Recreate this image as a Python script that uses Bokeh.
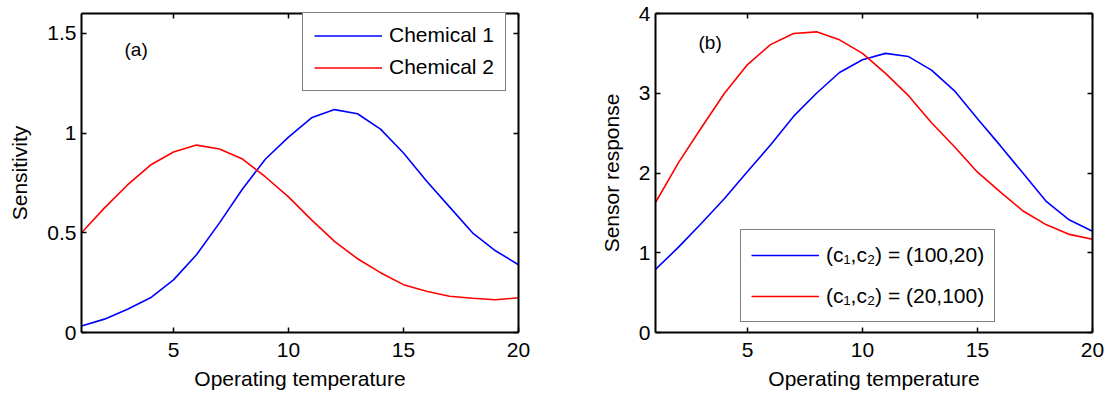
from bokeh.plotting import figure
from bokeh.layouts import row
from bokeh.models import (LinearAxis, FixedTicker, Range1d, Legend, LegendItem,
                          Label, CustomJSTickFormatter)
from bokeh.embed import file_html
from bokeh.resources import INLINE

# ---------------- data ----------------
temperature = list(range(1, 21))

chemical1 = [0.033, 0.067, 0.117, 0.174, 0.264, 0.39, 0.55, 0.72, 0.87, 0.98,
             1.077, 1.118, 1.097, 1.02, 0.90, 0.76, 0.63, 0.50, 0.41, 0.34]
chemical2 = [0.50, 0.625, 0.74, 0.84, 0.905, 0.94, 0.92, 0.87, 0.78, 0.68,
             0.565, 0.457, 0.37, 0.30, 0.24, 0.207, 0.182, 0.172, 0.164, 0.174]

resp_100_20 = [0.79, 1.07, 1.37, 1.68, 2.02, 2.35, 2.71, 3.00, 3.26, 3.42,
               3.50, 3.46, 3.29, 3.03, 2.68, 2.34, 1.99, 1.64, 1.41, 1.27]
resp_20_100 = [1.63, 2.13, 2.57, 3.00, 3.36, 3.61, 3.75, 3.77, 3.67, 3.50,
               3.25, 2.97, 2.63, 2.33, 2.01, 1.76, 1.52, 1.35, 1.23, 1.17]

x_ticks = [5, 10, 15, 20]
x_tick_labels = ["5", "10", "15", "20"]
ya_ticks = [0, 0.5, 1, 1.5]
ya_tick_labels = ["0", "0.5", "1", "1.5"]
yb_ticks = [0, 1, 2, 3, 4]
yb_tick_labels = ["0", "1", "2", "3", "4"]

series_a_names = ["Chemical 1", "Chemical 2"]
series_b_names = ["(c\u2081,c\u2082) = (100,20)", "(c\u2081,c\u2082) = (20,100)"]

FONT = "Liberation Sans"
FS = "21px"
BLUE = "#0000FF"
RED = "#FF0000"


def style_axis(ax, show_labels):
    ax.axis_line_width = 2
    ax.axis_line_color = "black"
    ax.major_tick_in = 5
    ax.major_tick_out = 0
    ax.major_tick_line_width = 1.5
    ax.minor_tick_line_color = None
    ax.major_label_text_font = FONT
    ax.major_label_text_font_size = FS
    ax.major_label_text_color = "black"
    ax.axis_label_text_font = FONT
    ax.axis_label_text_font_size = FS
    ax.axis_label_text_font_style = "normal"
    ax.axis_label_text_color = "black"
    if not show_labels:
        ax.major_label_text_font_size = "0px"
        ax.major_label_standoff = 0


def make_panel(ys, names, yticks, ylabels, ymax, ylabel, tag, tag_xy,
               border_left, border_right, legend_loc, legend_dims):
    p = figure(frame_width=437, frame_height=319,
               min_border_left=border_left, min_border_right=border_right,
               min_border_top=13, min_border_bottom=64,
               x_range=Range1d(1, 20), y_range=Range1d(0, ymax),
               output_backend="svg", toolbar_location=None,
               x_axis_location=None, y_axis_location=None)
    p.xgrid.grid_line_color = None
    p.ygrid.grid_line_color = None
    p.outline_line_color = None
    p.background_fill_color = "white"
    p.border_fill_color = "white"

    xoverride = {t: l for t, l in zip(x_ticks, x_tick_labels)}
    yoverride = {t: l for t, l in zip(yticks, ylabels)}

    xb = LinearAxis(ticker=FixedTicker(ticks=x_ticks), axis_label="Operating temperature")
    xb.major_label_overrides = xoverride
    style_axis(xb, True)
    xb.major_label_standoff = 10
    xb.axis_label_standoff = 7
    p.add_layout(xb, "below")

    xt = LinearAxis(ticker=FixedTicker(ticks=x_ticks),
                    formatter=CustomJSTickFormatter(code="return '';"))
    style_axis(xt, False)
    p.add_layout(xt, "above")

    yl = LinearAxis(ticker=FixedTicker(ticks=yticks), axis_label=ylabel)
    yl.major_label_overrides = yoverride
    style_axis(yl, True)
    yl.major_label_standoff = 5
    yl.axis_label_standoff = 13
    p.add_layout(yl, "left")

    yr = LinearAxis(ticker=FixedTicker(ticks=yticks),
                    formatter=CustomJSTickFormatter(code="return '';"))
    style_axis(yr, False)
    p.add_layout(yr, "right")

    r1 = p.line(temperature, ys[0], line_color=BLUE, line_width=1.6)
    r2 = p.line(temperature, ys[1], line_color=RED, line_width=1.6)

    gh, sp, pad = legend_dims
    leg = Legend(items=[LegendItem(label=names[0], renderers=[r1]),
                        LegendItem(label=names[1], renderers=[r2])],
                 location=legend_loc, margin=0, padding=pad, spacing=sp,
                 glyph_width=68, glyph_height=gh, label_height=gh,
                 label_standoff=7,
                 label_text_font=FONT, label_text_font_size=FS,
                 label_text_color="black",
                 border_line_color="black", border_line_width=1.5,
                 background_fill_color="white", background_fill_alpha=1.0)
    p.add_layout(leg, "center")

    p.add_layout(Label(x=tag_xy[0], y=tag_xy[1], text=tag, text_font=FONT,
                       text_font_size="19px", text_baseline="middle",
                       text_color="black"))
    return p


pa = make_panel([chemical1, chemical2], series_a_names, ya_ticks, ya_tick_labels,
                1.6, "Sensitivity", "(a)", (2.87, 1.42), 81, 42,
                (221, 241), (21, 8, 11))
pb = make_panel([resp_100_20, resp_20_100], series_b_names, yb_ticks, yb_tick_labels,
                4.0, "Sensor response", "(b)", (2.87, 3.64), 95, 19,
                (85, 10), (30, 11, 10))

layout = row(pa, pb)
open("out.html", "w").write(file_html(layout, INLINE))
